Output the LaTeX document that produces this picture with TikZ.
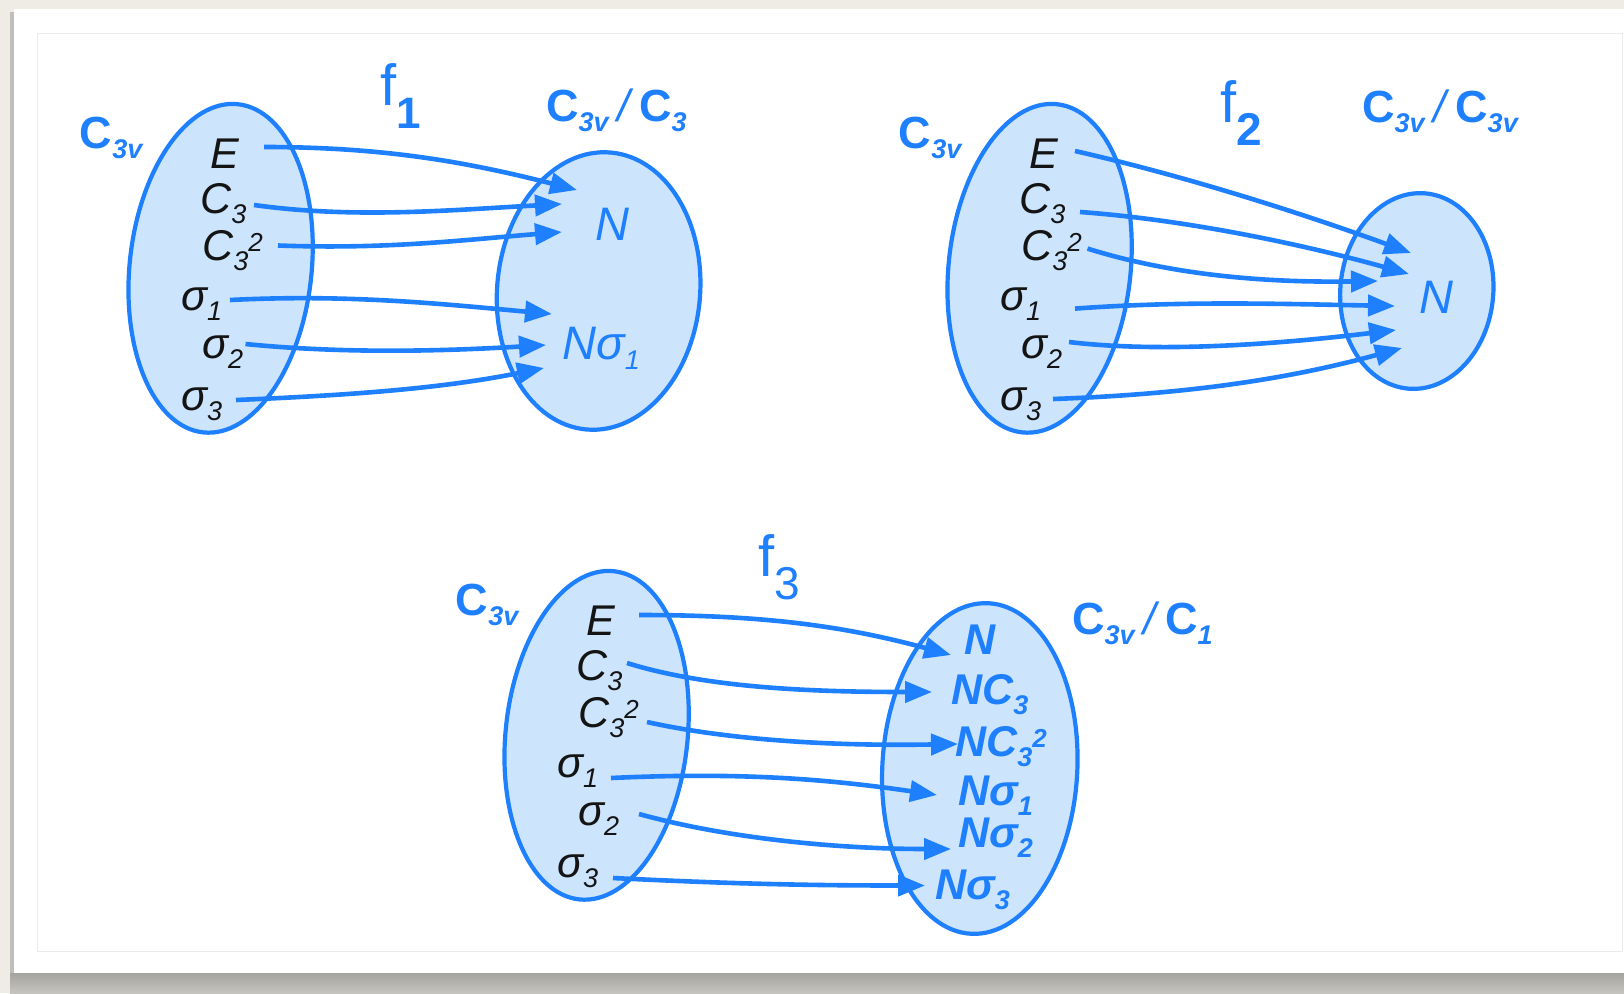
\documentclass[tikz,border=0pt]{standalone}
\usepackage{fontspec}
\setmainfont{Liberation Sans}
\usetikzlibrary{arrows.meta,shapes.geometric}
\definecolor{bl}{RGB}{30,128,254}
\definecolor{blfill}{RGB}{204,228,252}
\definecolor{beige}{RGB}{239,236,230}
\definecolor{shadowtop}{RGB}{165,163,157}
\definecolor{shadowbot}{RGB}{198,196,190}
\newcommand\lo[1]{\raisebox{-10pt}{\fontsize{27}{27}\selectfont #1}}
\newcommand\hi[1]{\raisebox{9pt}{\fontsize{26}{26}\selectfont #1}}
\newcommand\slsh{\hspace*{9pt}{\mdseries\itshape /}\hspace*{9pt}}
\newcommand\leftpart[3]{%
\begin{scope}[shift={(#1,#2)}]
 \node[ell,minimum width=182pt,minimum height=330pt,rotate=-6] (L#3) at (220.6,268.3) {};
 \node[grp] (G#3) at (79.7,148) {C\lo{\itshape 3v}};
 \node[el] (E#3) at (210.2,168.5) {E};
 \node[el] (C#3) at (200,213) {C\lo{3}};
 \node[el] (D#3) at (202,260) {C\lo{3}\hi{2}};
 \node[el] (Sa#3) at (181,310) {σ\lo{1}};
 \node[el] (Sb#3) at (202,358) {σ\lo{2}};
 \node[el] (Sc#3) at (181,410) {σ\lo{3}};
\end{scope}}
\begin{document}
\begin{tikzpicture}[x=1pt,y=-1pt,
  ell/.style={ellipse,draw=bl,fill=blfill,line width=4.2pt,inner sep=0pt},
  el/.style={anchor=base west,inner sep=0pt,text=black!92,font=\fontsize{43}{43}\selectfont\itshape},
  grp/.style={anchor=base west,inner sep=0pt,text=bl,font=\fontsize{45}{45}\selectfont\bfseries},
  tg/.style={anchor=base west,inner sep=0pt,text=bl,font=\fontsize{47}{47}\selectfont\itshape},
  tgb/.style={anchor=base west,inner sep=0pt,text=bl,font=\fontsize{43}{43}\selectfont\bfseries\itshape},
  fl/.style={anchor=base west,inner sep=0pt,text=bl,font=\fontsize{58}{58}\selectfont},
  arr/.style={draw=bl,line width=4.6pt,-{Triangle[length=27pt,width=21pt]}},
]
\useasboundingbox (0,0) rectangle (1624,993);
% frame
\fill[beige] (0,0) rectangle (1624,993);
\fill[shadowtop!70] (10,12) rectangle (1624,975);
\shade[top color=shadowtop,bottom color=shadowbot] (10,973) rectangle (1624,993);
\fill[white] (14,9) rectangle (1624,973);
\draw[black!8,line width=1pt] (37,33) rectangle (1622,951);

% ---------- f1 ----------
\leftpart{0}{0}{1}
\node[ell,minimum width=203pt,minimum height=278pt,rotate=-5] (R1) at (598.6,291) {};
\node[fl] (f1) at (380,105) {f\raisebox{-23pt}{\fontsize{44}{44}\selectfont\bfseries 1}};
\node[grp] (Q1) at (545.8,121) {C\lo{\itshape 3v}\slsh C\lo{\itshape 3}};
\node[tg] (N1) at (595.5,240) {N};
\node[tg] (M1) at (562.4,359) {Nσ\lo{1}};
\coordinate (a1) at (264,147);   \coordinate (b1) at (577,190);
\coordinate (a2) at (254,205);   \coordinate (b2) at (562,204);
\coordinate (a3) at (278,245.5); \coordinate (b3) at (562,232);
\coordinate (a4) at (230,300);   \coordinate (b4) at (552,314);
\coordinate (a5) at (245.5,344); \coordinate (b5) at (546,345);
\coordinate (a6) at (236,400);   \coordinate (b6) at (544,368);
\draw[arr] (a1) .. controls +(120,0) and +(-110,-28) .. (b1);
\draw[arr] (a2) .. controls +(100,14) and +(-110,6) .. (b2);
\draw[arr] (a3) .. controls +(110,4) and +(-100,8) .. (b3);
\draw[arr] (a4) .. controls +(120,-6) and +(-110,-10) .. (b4);
\draw[arr] (a5) .. controls +(100,10) and +(-100,6) .. (b5);
\draw[arr] (a6) .. controls +(120,-5) and +(-100,20) .. (b6);

% ---------- f2 ----------
\leftpart{819}{0}{2}
\node[ell,minimum width=153pt,minimum height=196pt,rotate=-5] (R2) at (1416.8,291) {};
\node[fl] (f2) at (1220,122.6) {f\raisebox{-23pt}{\fontsize{46}{46}\selectfont\bfseries 2}};
\node[grp] (Q2) at (1362,122) {C\lo{\itshape 3v}\slsh C\lo{\itshape 3v}};
\node[tg] (N2) at (1419,313) {N};
\coordinate (c1) at (1075,151);   \coordinate (d1) at (1411,253);
\coordinate (c2) at (1080,212);   \coordinate (d2) at (1409,274);
\coordinate (c3) at (1087.5,248.6); \coordinate (d3) at (1378,281);
\coordinate (c4) at (1075,308.6); \coordinate (d4) at (1395,306);
\coordinate (c5) at (1069,342);   \coordinate (d5) at (1396,330);
\coordinate (c6) at (1053,399);   \coordinate (d6) at (1402,348);
\draw[arr] (c1) .. controls +(110,25) and +(-110,-40) .. (d1);
\draw[arr] (c2) .. controls +(110,8) and +(-100,-28) .. (d2);
\draw[arr] (c3) .. controls +(80,25) and +(-120,2) .. (d3);
\draw[arr] (c4) .. controls +(110,-8) and +(-110,-2) .. (d4);
\draw[arr] (c5) .. controls +(100,12) and +(-100,12) .. (d5);
\draw[arr] (c6) .. controls +(140,-5) and +(-110,30) .. (d6);

% ---------- f3 ----------
\leftpart{376}{467}{3}
\node[ell,minimum width=195pt,minimum height=331pt,rotate=-3] (R3) at (979.8,768.5) {};
\node[fl] (f3) at (758,576) {f\raisebox{-23pt}{\fontsize{46}{46}\selectfont 3}};
\node[grp] (Q3) at (1072,634) {C\lo{\itshape 3v}\slsh C\lo{\itshape 1}};
\node[tgb] (T1) at (964,654) {N};
\node[tgb] (T2) at (951,704) {NC\lo{3}};
\node[tgb] (T3) at (955,756) {NC\lo{3}\hi{2}};
\node[tgb] (T4) at (958,805) {Nσ\lo{1}};
\node[tgb] (T5) at (958,847) {Nσ\lo{2}};
\node[tgb] (T6) at (935,899) {Nσ\lo{3}};
\coordinate (e1) at (639,615);   \coordinate (g1) at (951,655);
\coordinate (e2) at (627,663);   \coordinate (g2) at (932,692);
\coordinate (e3) at (647,722);   \coordinate (g3) at (958,744);
\coordinate (e4) at (611,778);   \coordinate (g4) at (937,795);
\coordinate (e5) at (639,814);   \coordinate (g5) at (951,849);
\coordinate (e6) at (613,878);   \coordinate (g6) at (925,885.5);
\draw[arr] (e1) .. controls +(120,0) and +(-110,-30) .. (g1);
\draw[arr] (e2) .. controls +(80,25) and +(-120,0) .. (g2);
\draw[arr] (e3) .. controls +(90,20) and +(-110,2) .. (g3);
\draw[arr] (e4) .. controls +(130,-6) and +(-110,-16) .. (g4);
\draw[arr] (e5) .. controls +(90,25) and +(-110,0) .. (g5);
\draw[arr] (e6) .. controls +(120,6) and +(-110,0) .. (g6);
\end{tikzpicture}
\end{document}
